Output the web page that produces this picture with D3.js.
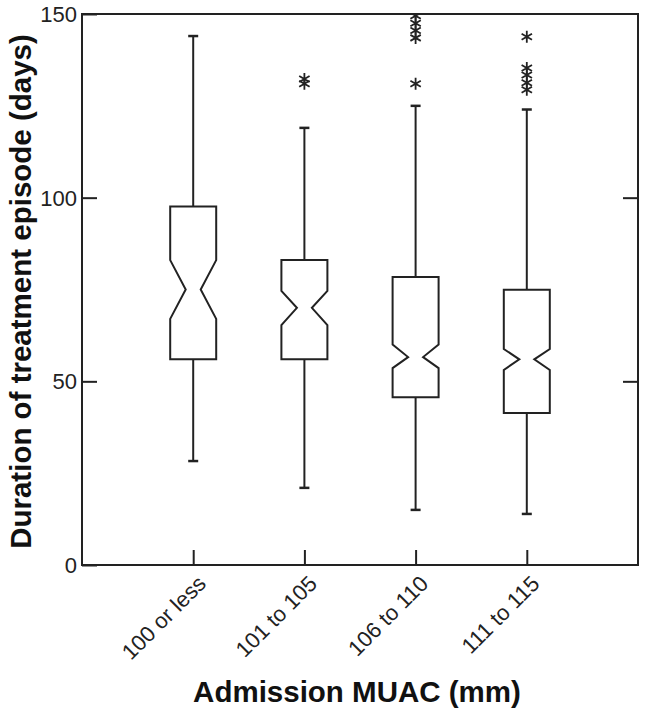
<!DOCTYPE html>
<html>
<head>
<meta charset="utf-8">
<script src="https://cdn.jsdelivr.net/npm/d3@7"></script>
<style>
  body { margin: 0; background: #fff; }
  svg { font-family: "Liberation Sans", Arial, sans-serif; }
  .tick-label { font-size: 22px; fill: #222; }
  .title { font-size: 29.5px; font-weight: bold; fill: #111; }
</style>
</head>
<body>
<svg width="647" height="715"></svg>
<script>
// data
const categories = ['100 or less', '101 to 105', '106 to 110', '111 to 115'];
const whiskerLow  = [28.3, 21, 15, 13.9];
const q1          = [56, 56, 45.7, 41.4];
const notchLow    = [67, 65.3, 53.6, 53.1];
const median      = [75, 70, 56.6, 56];
const notchHigh   = [83, 74.6, 60, 58.8];
const q3          = [97.6, 83, 78.4, 74.9];
const whiskerHigh = [144, 119, 125, 124];
const outliers = [
  [],
  [131, 132.3],
  [131, 143.5, 145.5, 147.5, 149.5],
  [129.4, 131.3, 133.4, 135.3, 143.8]
];
const yTicks = [0, 50, 100, 150];

const svg = d3.select('svg');
const mLeft = 82, mRight = 638, mTop = 14, mBottom = 565;
const ink = '#222';

const x = d3.scalePoint().domain(categories).range([mLeft, mRight]).padding(1);
const y = d3.scaleLinear().domain([0, 150]).range([mBottom, mTop]);

const boxes = categories.map((c, i) => ({
  c: c, lo: whiskerLow[i], q1: q1[i], nl: notchLow[i], med: median[i],
  nh: notchHigh[i], q3: q3[i], hi: whiskerHigh[i], out: outliers[i]
}));

const half = 23, inner = 7.5, cap = 5;

// clip for outliers
svg.append('clipPath').attr('id', 'plot')
  .append('rect').attr('x', mLeft).attr('y', mTop)
  .attr('width', mRight - mLeft).attr('height', mBottom - mTop);

const g = svg.append('g');

const grp = g.selectAll('.box').data(boxes).enter().append('g').attr('class', 'box');

// whiskers
grp.append('line')
  .attr('x1', d => x(d.c)).attr('x2', d => x(d.c))
  .attr('y1', d => y(d.q3)).attr('y2', d => y(d.hi))
  .attr('stroke', ink).attr('stroke-width', 2);
grp.append('line')
  .attr('x1', d => x(d.c)).attr('x2', d => x(d.c))
  .attr('y1', d => y(d.q1)).attr('y2', d => y(d.lo))
  .attr('stroke', ink).attr('stroke-width', 2);
grp.append('line')
  .attr('x1', d => x(d.c) - cap).attr('x2', d => x(d.c) + cap)
  .attr('y1', d => y(d.hi)).attr('y2', d => y(d.hi))
  .attr('stroke', ink).attr('stroke-width', 2.5);
grp.append('line')
  .attr('x1', d => x(d.c) - cap).attr('x2', d => x(d.c) + cap)
  .attr('y1', d => y(d.lo)).attr('y2', d => y(d.lo))
  .attr('stroke', ink).attr('stroke-width', 2.5);

// notched box
grp.append('path')
  .attr('d', d => {
    const cx = x(d.c);
    const pts = [
      [cx - half, y(d.q3)], [cx + half, y(d.q3)], [cx + half, y(d.nh)],
      [cx + inner, y(d.med)], [cx + half, y(d.nl)], [cx + half, y(d.q1)],
      [cx - half, y(d.q1)], [cx - half, y(d.nl)], [cx - inner, y(d.med)],
      [cx - half, y(d.nh)]
    ];
    return d3.line()(pts) + 'Z';
  })
  .attr('fill', '#fff').attr('stroke', ink).attr('stroke-width', 2)
  .attr('stroke-linejoin', 'miter');

// outliers as asterisks
const star = r => {
  let p = '';
  [90, 30, 150].forEach(a => {
    const dx = r * Math.cos(a * Math.PI / 180), dy = r * Math.sin(a * Math.PI / 180);
    p += `M${-dx},${-dy}L${dx},${dy}`;
  });
  return p;
};
const outG = svg.append('g').attr('clip-path', 'url(#plot)');
boxes.forEach(b => {
  outG.selectAll(null).data(b.out).enter().append('path')
    .attr('transform', v => `translate(${x(b.c)},${y(v)})`)
    .attr('d', star(6))
    .attr('stroke', ink).attr('stroke-width', 1.8).attr('fill', 'none');
});

// frame
svg.append('rect')
  .attr('x', mLeft).attr('y', mTop)
  .attr('width', mRight - mLeft).attr('height', mBottom - mTop)
  .attr('fill', 'none').attr('stroke', ink).attr('stroke-width', 2);

// y axis (left) with inward ticks
const yAxis = svg.append('g')
  .attr('transform', `translate(${mLeft},0)`)
  .call(d3.axisRight(y).tickValues(yTicks).tickSize(15).tickFormat(''));
yAxis.select('.domain').remove();
yAxis.selectAll('.tick line').attr('stroke', ink).attr('stroke-width', 2);

svg.append('g').selectAll('text').data(yTicks).enter().append('text')
  .attr('class', 'tick-label')
  .attr('x', mLeft - 5).attr('y', d => y(d))
  .attr('dy', '0.36em').attr('text-anchor', 'end')
  .text(d => d);

// right side ticks
const yAxisR = svg.append('g')
  .attr('transform', `translate(${mRight},0)`)
  .call(d3.axisLeft(y).tickValues([50, 100]).tickSize(15).tickFormat(''));
yAxisR.select('.domain').remove();
yAxisR.selectAll('.tick line').attr('stroke', ink).attr('stroke-width', 2);

// x axis with inward ticks
const xAxis = svg.append('g')
  .attr('transform', `translate(0,${mBottom})`)
  .call(d3.axisTop(x).tickSize(15).tickFormat(''));
xAxis.select('.domain').remove();
xAxis.selectAll('.tick line').attr('stroke', ink).attr('stroke-width', 2);

svg.append('g').selectAll('text').data(categories).enter().append('text')
  .attr('class', 'tick-label')
  .attr('transform', d => `translate(${x(d) + 14},${mBottom + 20}) rotate(-45)`)
  .attr('text-anchor', 'end')
  .text(d => d);

// titles
svg.append('text')
  .attr('class', 'title')
  .attr('transform', `translate(31,${(mTop + mBottom) / 2 + 2}) rotate(-90)`)
  .attr('text-anchor', 'middle')
  .text('Duration of treatment episode (days)');

svg.append('text')
  .attr('class', 'title')
  .attr('x', 357).attr('y', 702)
  .attr('text-anchor', 'middle')
  .text('Admission MUAC (mm)');
</script>
</body>
</html>
